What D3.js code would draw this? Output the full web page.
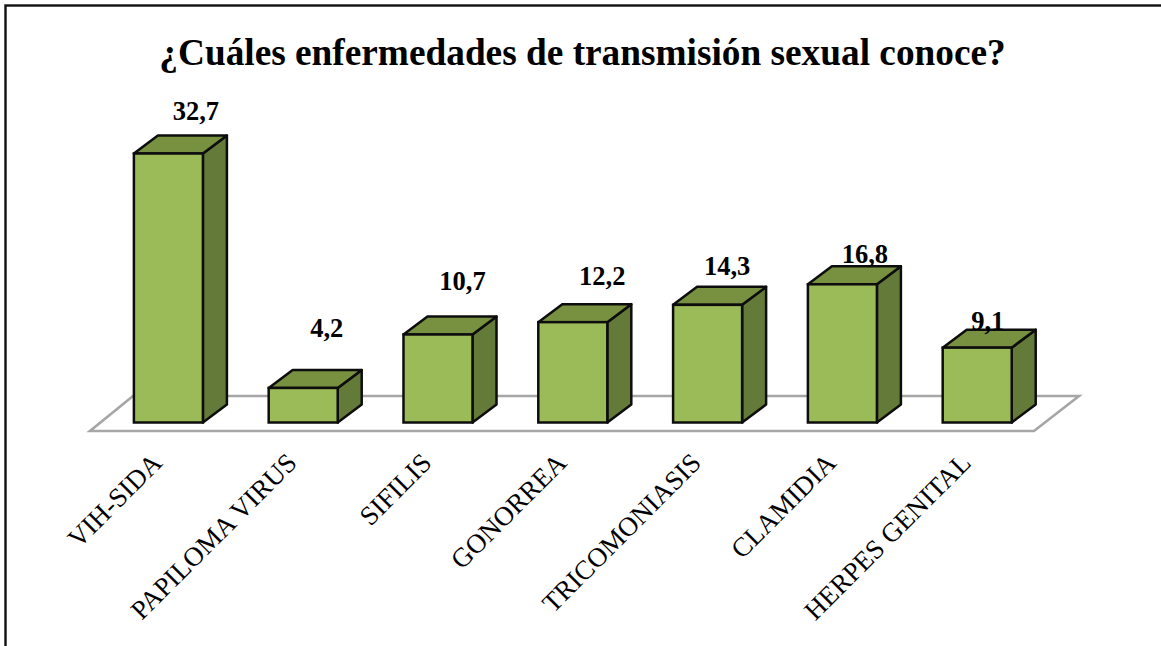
<!DOCTYPE html>
<html>
<head>
<meta charset="utf-8">
<script src="https://cdn.jsdelivr.net/npm/d3@7/dist/d3.min.js"></script>
<style>
  html, body { margin: 0; padding: 0; background: #fff; overflow: hidden; }
  svg { display: block; font-family: "Liberation Serif", serif; }
</style>
</head>
<body>
<svg class="chart"></svg>
<script>
var categories = ["VIH-SIDA", "PAPILOMA VIRUS", "SIFILIS", "GONORREA", "TRICOMONIASIS", "CLAMIDIA", "HERPES GENITAL"];
var values = [32.7, 4.2, 10.7, 12.2, 14.3, 16.8, 9.1];
var valueLabels = ["32,7", "4,2", "10,7", "12,2", "14,3", "16,8", "9,1"];

var width = 1161;
var height = 646;
var baseY = 422.5;

// the labels were dragged by hand in the original, so each has its own nudge
var labelDx = [27.5, 23.5, 24.5, 29.5, 19.5, 22.5, 10.5];
var labelDy = [34, 51, 44, 37, 30, 21, 18];

// fake 3d depth of the bars
var depthX = 24;
var depthY = 18;

var chart = d3.select(".chart").attr("width", width).attr("height", height);

var x = d3.scaleBand()
  .domain(categories)
  .range([101, 1044.6])
  .paddingInner(0.488)
  .paddingOuter(0.244);

var y = d3.scaleLinear()
  .domain([0, 32.7])
  .range([baseY, 153.5]);

// frame, runs off the right and bottom of the window
chart.append("rect")
  .attr("x", 5.5)
  .attr("y", 5.5)
  .attr("width", width + 20)
  .attr("height", height + 20)
  .attr("fill", "#fff")
  .attr("stroke", "#111")
  .attr("stroke-width", 2.4);

chart.append("text")
  .attr("x", 582.5)
  .attr("y", 65)
  .attr("text-anchor", "middle")
  .attr("font-size", 37.3)
  .attr("font-weight", "bold")
  .text("¿Cuáles enfermedades de transmisión sexual conoce?");

// floor
chart.append("polygon")
  .attr("points", "90,431 1034,431 1079,396 133,396")
  .attr("fill", "#fff")
  .attr("stroke", "#a6a6a6")
  .attr("stroke-width", 2.6);

var bars = chart.append("g").selectAll("g")
  .data(categories)
  .join("g");

// side face
bars.append("path")
  .attr("d", function(d, i) {
    var r = x(d) + x.bandwidth();
    var t = y(values[i]);
    return "M" + r + "," + t + "L" + (r + depthX) + "," + (t - depthY)
      + "L" + (r + depthX) + "," + (baseY - depthY) + "L" + r + "," + baseY + "Z";
  })
  .attr("fill", "#647a38")
  .attr("stroke", "#0d0d0d")
  .attr("stroke-width", 2.5)
  .attr("stroke-linejoin", "round");

// top face
bars.append("path")
  .attr("d", function(d, i) {
    var l = x(d);
    var r = l + x.bandwidth();
    var t = y(values[i]);
    return "M" + l + "," + t + "L" + (l + depthX) + "," + (t - depthY)
      + "L" + (r + depthX) + "," + (t - depthY) + "L" + r + "," + t + "Z";
  })
  .attr("fill", "#779140")
  .attr("stroke", "#0d0d0d")
  .attr("stroke-width", 2.5)
  .attr("stroke-linejoin", "round");

// front face
bars.append("rect")
  .attr("x", function(d) { return x(d); })
  .attr("y", function(d, i) { return y(values[i]); })
  .attr("width", x.bandwidth())
  .attr("height", function(d, i) { return baseY - y(values[i]); })
  .attr("fill", "#9bbb59")
  .attr("stroke", "#0d0d0d")
  .attr("stroke-width", 2.5);

chart.append("g").selectAll("text")
  .data(valueLabels)
  .join("text")
  .attr("x", function(d, i) { return x(categories[i]) + x.bandwidth() / 2 + labelDx[i]; })
  .attr("y", function(d, i) { return y(values[i]) - labelDy[i]; })
  .attr("text-anchor", "middle")
  .attr("font-size", 26.5)
  .attr("font-weight", "bold")
  .text(function(d) { return d; });

var xAxis = d3.axisBottom().scale(x).tickSize(0);

var axisG = chart.append("g")
  .attr("transform", "translate(0," + baseY + ")")
  .call(xAxis);

axisG.select(".domain").remove();

axisG.selectAll("text")
  .attr("font-family", "Liberation Serif, serif")
  .attr("font-size", 27)
  .attr("fill", "#000")
  .attr("text-anchor", "end")
  .attr("dx", "-0.1em")
  .attr("dy", "0.1em")
  .attr("transform", "translate(-7,36) rotate(-45)");
</script>
</body>
</html>
